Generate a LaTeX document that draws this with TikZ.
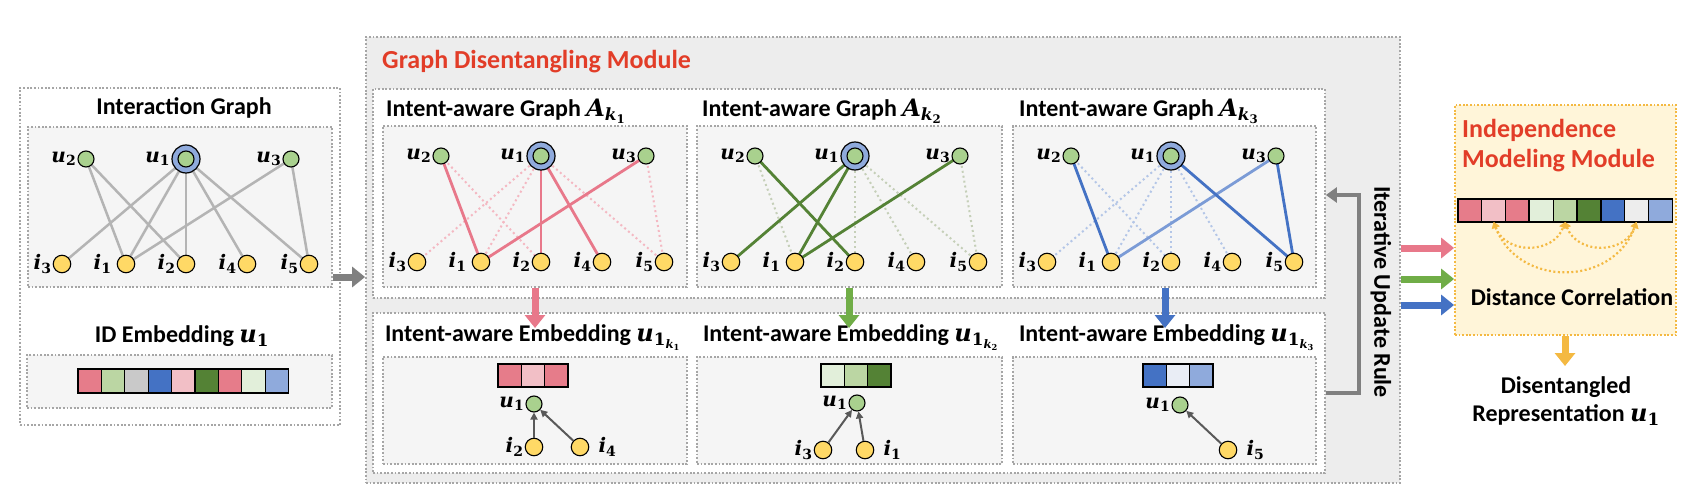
\documentclass[tikz,border=0pt]{standalone}
\usepackage{amsmath}
\usepackage{fontspec}
\setmainfont{Carlito}
\newfontfamily\mfam{DejaVu Serif}
\usetikzlibrary{arrows.meta,fit,calc}
\pgfdeclarelayer{boxes}
\pgfdeclarelayer{edges}
\pgfsetlayers{boxes,edges,main}

\definecolor{dotgray}{HTML}{A6A6A6}
\definecolor{gdmgray}{HTML}{EDEDED}
\definecolor{panelgray}{HTML}{F5F5F5}
\definecolor{ugreen}{HTML}{A9D18E}
\definecolor{iyellow}{HTML}{FFD966}
\definecolor{ringblue}{HTML}{8FAADC}
\definecolor{edgegray}{HTML}{B4B4B4}
\definecolor{pinkS}{HTML}{E67C8A}
\definecolor{pinkL}{HTML}{F2BFC6}
\definecolor{pinkE}{HTML}{E8788A}
\definecolor{pinkD}{HTML}{F4B8C2}
\definecolor{greenL}{HTML}{BBD6A3}
\definecolor{greenVL}{HTML}{E2EFDA}
\definecolor{greenD}{HTML}{548235}
\definecolor{greenDot}{HTML}{C5CFB8}
\definecolor{greenA}{HTML}{70AD47}
\definecolor{blueD}{HTML}{4472C4}
\definecolor{blueL}{HTML}{8FAADC}
\definecolor{blueM}{HTML}{7B9BD6}
\definecolor{blueDot}{HTML}{B4C6E7}
\definecolor{grayS}{HTML}{C9C9C9}
\definecolor{grayVL}{HTML}{EDEDED}
\definecolor{blueVL}{HTML}{E9EDF5}
\definecolor{redt}{HTML}{E23D28}
\definecolor{arrgray}{HTML}{808080}
\definecolor{smallarr}{HTML}{595959}
\definecolor{yelA}{HTML}{F4B942}
\definecolor{yelBox}{HTML}{FFF5D9}

\newcommand{\ttl}{\fontsize{24}{28}\selectfont\bfseries}
\newcommand{\lblf}{\fontsize{20}{24}\selectfont}
% bold-italic variable with a bold subscript
\newcommand{\mvar}[2]{{\mfam\bfseries$\textit{#1}_{\text{#2}}$}}
\newcommand{\kk}[1]{\textit{k}$_{\text{#1}}$}

\tikzset{
  dotbox/.style={rectangle, draw=dotgray, line width=1.8pt, dash pattern=on 1.8pt off 1.8pt, inner sep=0pt},
  unode/.style={circle, draw=black, line width=1.1pt, fill=ugreen, minimum size=16pt, inner sep=0pt},
  inode/.style={circle, draw=black, line width=1.1pt, fill=iyellow, minimum size=17.5pt, inner sep=0pt},
  ring/.style={circle, draw=black, line width=1.2pt, fill=ringblue, minimum size=28pt, inner sep=0pt},
  lbl/.style={font=\lblf, inner sep=1pt},
  sq/.style={rectangle, draw=black, line width=1.2pt, minimum width=23.4pt, minimum height=24pt, inner sep=0pt, outer sep=0pt},
  gedge/.style={draw=edgegray, line width=2.5pt},
  pks/.style={draw=pinkE, line width=2.8pt},
  pkd/.style={draw=pinkD, line width=2pt, dash pattern=on 2pt off 3pt},
  grs/.style={draw=greenD, line width=2.8pt},
  grd/.style={draw=greenDot, line width=2pt, dash pattern=on 2pt off 3pt},
  bls/.style={draw=blueD, line width=2.8pt},
  blm/.style={draw=blueM, line width=2.8pt},
  bld/.style={draw=blueDot, line width=2pt, dash pattern=on 2pt off 3pt},
  fatarrow/.style={line width=7pt, -{Triangle[length=13pt,width=20pt]}},
  thinarrow/.style={draw=smallarr, line width=2pt, -{Triangle[length=7pt,width=7pt]}},
  darc/.style={draw=yelA, line width=2.2pt, dash pattern=on 2pt off 2.5pt, {Triangle[length=6pt,width=8pt]}-{Triangle[length=6pt,width=8pt]}, looseness=1.25},
}

% prefix, left x, user y, item y
\newcommand{\mkgraph}[4]{%
  \node[ring, label={[lbl]left:\mvar{u}{1}}] (#1r) at ({#2+158},#3) {};
  \node[unode] (#1u1) at ({#2+158},#3) {};
  \node[unode, label={[lbl]left:\mvar{u}{2}}] (#1u2) at ({#2+58},#3) {};
  \node[unode, label={[lbl]left:\mvar{u}{3}}] (#1u3) at ({#2+263},#3) {};
  \node[inode, label={[lbl]left:\mvar{i}{3}}] (#1i3) at ({#2+34},#4) {};
  \node[inode, label={[lbl,label distance=4pt]left:\mvar{i}{1}}] (#1i1) at ({#2+98},#4) {};
  \node[inode, label={[lbl]left:\mvar{i}{2}}] (#1i2) at ({#2+158},#4) {};
  \node[inode, label={[lbl]left:\mvar{i}{4}}] (#1i4) at ({#2+219},#4) {};
  \node[inode, label={[lbl]left:\mvar{i}{5}}] (#1i5) at ({#2+281},#4) {};
}

\begin{document}
\begin{tikzpicture}[x=1pt,y=-1pt]
\useasboundingbox (0,0) rectangle (1694,500);

\begin{pgfonlayer}{boxes}
\fill[white] (0,0) rectangle (1694,500);
% left module
\node[dotbox, fill=white, fit={(20,88) (340,425)}] (leftbox) {};
\node[dotbox, fill=panelgray, fit={(28,127) (332,287)}] (igbox) {};
\node[dotbox, fill=panelgray, fit={(27,355) (332,408)}] (idbox) {};
% graph disentangling module
\node[dotbox, fill=gdmgray, fit={(366,37) (1400,483)}] (gdm) {};
\node[dotbox, fill=white, fit={(373,89) (1325,298)}] (grow) {};
\node[dotbox, fill=white, fit={(373,313) (1325,473)}] (erow) {};
\node[dotbox, fill=panelgray, fit={(383,126) (687,287)}] (gp1) {};
\node[dotbox, fill=panelgray, fit={(697,126) (1002,287)}] (gp2) {};
\node[dotbox, fill=panelgray, fit={(1013,126) (1316,287)}] (gp3) {};
\node[dotbox, fill=panelgray, fit={(383,357) (687,464)}] (ep1) {};
\node[dotbox, fill=panelgray, fit={(697,357) (1002,464)}] (ep2) {};
\node[dotbox, fill=panelgray, fit={(1013,357) (1316,464)}] (ep3) {};
% independence module
\node[dotbox, draw=yelA, fill=yelBox, fit={(1455,105) (1676,335)}] (imm) {};
\end{pgfonlayer}

% titles
\node[font=\ttl] (tig) at (184,108) {Interaction Graph};
\node[font=\ttl] (tid) at (182,336) {ID Embedding \mvar{u}{1}};
\node[font=\fontsize{26}{30}\selectfont\bfseries, text=redt, anchor=west, inner sep=0pt] (tgdm) at (382,62) {Graph Disentangling Module};
\node[font=\ttl, anchor=west, inner sep=0pt] (tg1) at (386,111) {Intent-aware Graph \mvar{A}{\kk{1}}};
\node[font=\ttl, anchor=west, inner sep=0pt] (tg2) at (702,111) {Intent-aware Graph \mvar{A}{\kk{2}}};
\node[font=\ttl, anchor=west, inner sep=0pt] (tg3) at (1019,111) {Intent-aware Graph \mvar{A}{\kk{3}}};
\node[font=\ttl] (te1) at (533,338) {Intent-aware Embedding \mvar{u}{1$_{\text{\kk{1}}}$}};
\node[font=\ttl] (te2) at (851,338) {Intent-aware Embedding \mvar{u}{1$_{\text{\kk{2}}}$}};
\node[font=\ttl] (te3) at (1167,338) {Intent-aware Embedding \mvar{u}{1$_{\text{\kk{3}}}$}};
\node[font=\ttl, rotate=-90] (tiur) at (1381,292) {Iterative Update Rule};
\node[font=\fontsize{26}{30}\selectfont\bfseries, text=redt, anchor=north west, align=left, inner sep=0pt] (timm) at (1462,119) {Independence\\Modeling Module};
\node[font=\ttl] (tdc) at (1572,297) {Distance Correlation};
\node[font=\ttl, align=center] (tdr) at (1566,401) {Disentangled\\Representation \mvar{u}{1}};

% graphs
\mkgraph{ig}{28}{159}{264}
\mkgraph{a}{383}{156}{262}
\mkgraph{b}{697}{156}{262}
\mkgraph{c}{1013}{156}{262}

\begin{pgfonlayer}{edges}
\foreach \u/\i in {u2/i1,u2/i2,u1/i3,u1/i1,u1/i2,u1/i4,u1/i5,u3/i1,u3/i5}
  \draw[gedge] (ig\u.center) -- (ig\i.center);
% panel 1 pink
\foreach \u/\i in {u1/i3,u1/i1,u1/i5,u2/i2,u3/i5}
  \draw[pkd] (a\u.center) -- (a\i.center);
\foreach \u/\i in {u2/i1,u1/i2,u1/i4,u3/i1}
  \draw[pks] (a\u.center) -- (a\i.center);
% panel 2 green
\foreach \u/\i in {u2/i1,u1/i2,u1/i4,u1/i5,u3/i5}
  \draw[grd] (b\u.center) -- (b\i.center);
\foreach \u/\i in {u2/i2,u1/i3,u1/i1,u3/i1}
  \draw[grs] (b\u.center) -- (b\i.center);
% panel 3 blue
\foreach \u/\i in {u1/i3,u1/i1,u1/i2,u1/i4,u2/i2}
  \draw[bld] (c\u.center) -- (c\i.center);
\draw[blm] (cu3.center) -- (ci1.center);
\foreach \u/\i in {u2/i1,u1/i5,u3/i5}
  \draw[bls] (c\u.center) -- (c\i.center);
\end{pgfonlayer}

% ID embedding strip
\foreach \c [count=\k from 0] in {pinkS,greenL,grayS,blueD,pinkL,greenD,pinkS,greenVL,blueL}
  \node[sq, fill=\c] (id\k) at ({89.7+23.4*\k},381) {};

% independence strip
\foreach \c [count=\k from 1] in {pinkS,pinkL,pinkS,greenVL,greenL,greenD,blueD,grayVL,blueL}
  \node[sq, minimum width=23.8pt, minimum height=23pt, fill=\c] (ie\k) at ({1446.1+23.8*\k},210.5) {};
\draw[line width=2pt] (ie3.north east) -- (ie3.south east);
\draw[line width=2pt] (ie6.north east) -- (ie6.south east);
\draw[darc] (ie2.south) to[out=-70,in=-110] (ie5.south);
\draw[darc] (ie5.south) to[out=-70,in=-110] (ie8.south);
\draw[darc] (ie2.south) to[out=-70,in=-110] (ie8.south);

% intent-aware embeddings
\foreach \c [count=\k from 0] in {pinkS,pinkL,pinkS}
  \node[sq, minimum width=23.3pt, minimum height=23pt, fill=\c] (pa\k) at ({509.7+23.3*\k},375.5) {};
\foreach \c [count=\k from 0] in {greenVL,greenL,greenD}
  \node[sq, minimum width=23.3pt, minimum height=23pt, fill=\c] (pb\k) at ({832.7+23.3*\k},375.5) {};
\foreach \c [count=\k from 0] in {blueD,blueVL,blueL}
  \node[sq, minimum width=23.3pt, minimum height=23pt, fill=\c] (pc\k) at ({1154.7+23.3*\k},375.5) {};

\node[unode, label={[lbl]left:\mvar{u}{1}}] (eau1) at (534,404) {};
\node[inode, label={[lbl]left:\mvar{i}{2}}] (eai2) at (534,447) {};
\node[inode, label={[lbl,label distance=8pt]right:\mvar{i}{4}}] (eai4) at (580,447) {};
\node[unode, label={[lbl]left:\mvar{u}{1}}] (ebu1) at (857,403) {};
\node[inode, label={[lbl]left:\mvar{i}{3}}] (ebi3) at (823,450) {};
\node[inode, label={[lbl,label distance=8pt]right:\mvar{i}{1}}] (ebi1) at (865,450) {};
\node[unode, label={[lbl]left:\mvar{u}{1}}] (ecu1) at (1180,405) {};
\node[inode, label={[lbl,label distance=8pt]right:\mvar{i}{5}}] (eci5) at (1228,450) {};
\draw[thinarrow] (eai2) -- (eau1);
\draw[thinarrow] (eai4) -- (eau1);
\draw[thinarrow] (ebi3) -- (ebu1);
\draw[thinarrow] (ebi1) -- (ebu1);
\draw[thinarrow] (eci5) -- (ecu1);

% big arrows
\draw[fatarrow, draw=arrgray] (igbox.east |- 0,277) -- (gdm.west |- 0,277);
\draw[fatarrow, draw=pinkE] (gp1.south -| 535,0) -- (535,328);
\draw[fatarrow, draw=greenA] (gp2.south -| 849,0) -- (849,328);
\draw[fatarrow, draw=blueD] (gp3.south -| 1165,0) -- (1165,328);
\draw[draw=arrgray, line width=4pt, -{Triangle[length=11pt,width=15pt]}]
  (erow.east |- 0,393) -- (1359,393) -- (1359,195) -- (grow.east |- 0,195);
\draw[fatarrow, draw=pinkE] (gdm.east |- 0,248) -- (imm.west |- 0,248);
\draw[fatarrow, draw=greenA] (gdm.east |- 0,279) -- (imm.west |- 0,279);
\draw[fatarrow, draw=blueD] (gdm.east |- 0,305) -- (imm.west |- 0,305);
\draw[fatarrow, draw=yelA] (imm.south -| 1565,0) -- (1565,366);

\end{tikzpicture}
\end{document}
